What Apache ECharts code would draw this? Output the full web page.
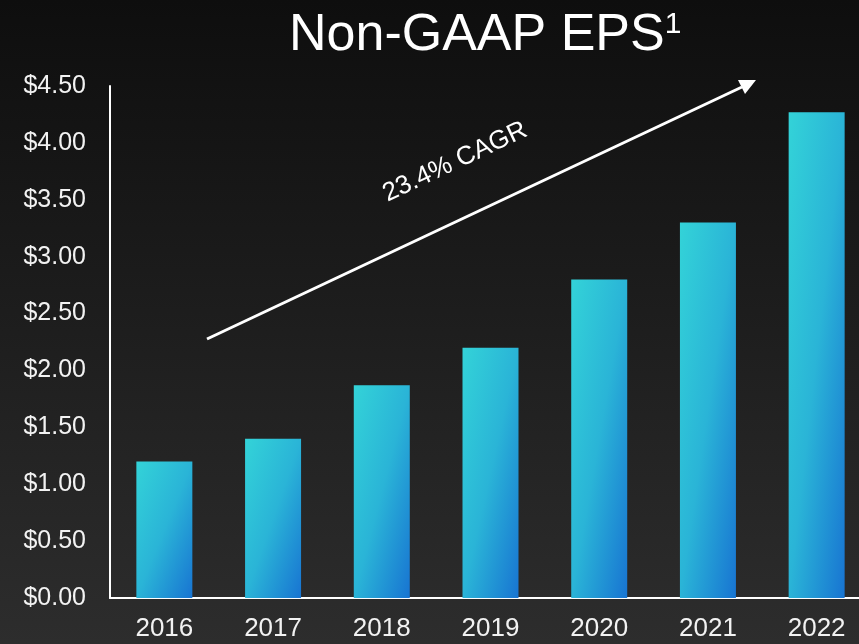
<!DOCTYPE html>
<html>
<head>
<meta charset="utf-8">
<script src="https://cdn.jsdelivr.net/npm/echarts@6/dist/echarts.min.js"></script>
<style>
  html, body { margin: 0; padding: 0; background: #1a1a1a; }
  #chart { width: 859px; height: 644px; }
</style>
</head>
<body>
<div id="chart"></div>
<script>
// data
const years = ["2016", "2017", "2018", "2019", "2020", "2021", "2022"];
const eps = [1.20, 1.40, 1.87, 2.20, 2.80, 3.30, 4.27];
const yTicks = [0, 0.5, 1, 1.5, 2, 2.5, 3, 3.5, 4, 4.5];
const cagrText = "23.4% CAGR";

const barWidthRatio = 0.515;
const barStops = [
  { offset: 0, color: "#33d3d8" },
  { offset: 0.5, color: "#2ab4d7" },
  { offset: 1, color: "#1874d2" }
];

// gradient that runs corner to corner of each bar (like a slide-deck fill),
// whatever the bar's aspect ratio
function barGradient(w, h) {
  const d = h * h + w * w;
  return new echarts.graphic.LinearGradient(0, 0, (2 * h * h) / d, (2 * w * w) / d, barStops);
}

const myChart = echarts.init(document.getElementById("chart"));

let option = {
  backgroundColor: new echarts.graphic.LinearGradient(0, 0, 0, 1, [
    { offset: 0, color: "#0e0e0e" },
    { offset: 1, color: "#2d2d2d" }
  ]),
  title: {
    text: "Non-GAAP EPS{sup|1}",
    left: 284,
    top: 5,
    textStyle: {
      color: "#ffffff",
      fontFamily: "Liberation Sans",
      fontSize: 52,
      fontWeight: "normal",
      rich: {
        sup: {
          color: "#ffffff",
          fontFamily: "Liberation Sans",
          fontSize: 30,
          verticalAlign: "top"
        }
      }
    }
  },
  grid: {
    left: 110,
    width: 761,
    top: 86,
    bottom: 46,
    containLabel: false,
    outerBoundsMode: "none"
  },
  xAxis: {
    type: "category",
    data: years,
    axisLine: { show: true, lineStyle: { color: "#ffffff", width: 2 } },
    axisTick: { show: false },
    axisLabel: {
      color: "#f2f2f2",
      fontFamily: "Liberation Sans",
      fontSize: 26,
      margin: 18
    }
  },
  yAxis: {
    type: "value",
    min: yTicks[0],
    max: yTicks[yTicks.length - 1],
    interval: 0.5,
    axisLine: { show: true, lineStyle: { color: "#ffffff", width: 2 } },
    axisTick: { show: false },
    splitLine: { show: false },
    axisLabel: {
      color: "#f2f2f2",
      fontFamily: "Liberation Sans",
      fontSize: 25,
      margin: 24,
      formatter: v => "$" + v.toFixed(2)
    }
  },
  series: [
    {
      name: "Non-GAAP EPS",
      type: "bar",
      data: eps,
      barWidth: barWidthRatio * 100 + "%",
      itemStyle: { color: barGradient(56, 300) },
      silent: true
    }
  ],
  // growth arrow + label
  graphic: [
    {
      type: "line",
      shape: { x1: 207, y1: 339, x2: 742, y2: 87 },
      style: { stroke: "#ffffff", lineWidth: 3 },
      z: 10
    },
    {
      type: "polygon",
      shape: { points: [[756, 80], [745, 94], [738, 80]] },
      style: { fill: "#ffffff" },
      z: 10
    },
    {
      type: "text",
      x: 455,
      y: 162,
      rotation: 25.2 * Math.PI / 180,
      style: {
        text: cagrText,
        fill: "#ffffff",
        font: "26px 'Liberation Sans'",
        align: "center",
        verticalAlign: "middle"
      },
      z: 10
    }
  ]
};
myChart.setOption(option);

// per-bar fill, sized from the axis scales
const p0 = myChart.convertToPixel({ gridIndex: 0 }, [0, 0]);
const p1 = myChart.convertToPixel({ gridIndex: 0 }, [1, 0]);
const bw = (p1[0] - p0[0]) * barWidthRatio;
const barData = eps.map((v, i) => {
  const top = myChart.convertToPixel({ gridIndex: 0 }, [i, v]);
  return { value: v, itemStyle: { color: barGradient(bw, p0[1] - top[1]) } };
});
myChart.setOption({ series: [{ data: barData }] });
</script>
</body>
</html>
